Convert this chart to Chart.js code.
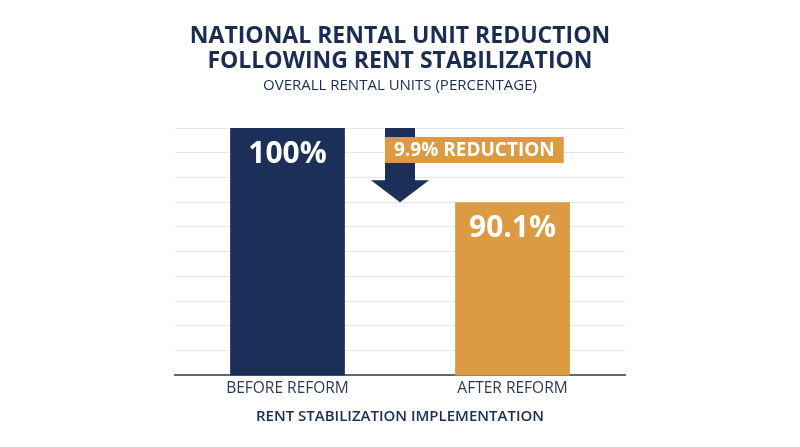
<!DOCTYPE html>
<html lang="en">
<head>
  <meta charset="UTF-8" />
  <title>Rental Unit Reduction</title>
  <script src="https://cdn.jsdelivr.net/npm/chart.js@4.4.1/dist/chart.umd.min.js"></script>
  <style>
    html, body {margin: 0; padding: 0; background: #fff;}
    #wrap {width: 800px; height: 447px; position: relative;}
  </style>
</head>
<body>
  <div id="wrap"><canvas id="myChart"></canvas></div>

  <script>
    // data
    const categories = ["BEFORE REFORM", "AFTER REFORM"];
    const values = [100, 90.1];
    const barColors = ["#1b2f58", "#dc9b42"];
    const yMin = 67, yMax = 100, yStep = 3.3;   // axis is cropped, not zero-based

    const navy = "#1b2d52";
    const FONT = "'Open Sans', sans-serif";

    // value labels inside the bars
    const valueLabels = {
      id: "valueLabels",
      afterDatasetsDraw(chart) {
        const ctx = chart.ctx;
        const meta = chart.getDatasetMeta(0);
        ctx.save();
        ctx.fillStyle = "#fff";
        ctx.font = "bold 30px " + FONT;
        ctx.textAlign = "center";
        ctx.textBaseline = "middle";
        meta.data.forEach((bar, i) => {
          ctx.fillText(values[i] + "%", bar.x, bar.y + 26);
        });
        ctx.restore();
      }
    };

    // down arrow + reduction tag between the bars
    const reductionArrow = {
      id: "reductionArrow",
      afterDatasetsDraw(chart) {
        const ctx = chart.ctx;
        const y = chart.scales.y;
        const area = chart.chartArea;
        const cx = (area.left + area.right) / 2;
        const yTop = y.getPixelForValue(values[0]);
        const yTip = y.getPixelForValue(values[1]);
        const shaft = 15, head = 29, headH = 22;

        ctx.save();
        ctx.fillStyle = barColors[0];
        ctx.beginPath();
        ctx.moveTo(cx - shaft, yTop);
        ctx.lineTo(cx + shaft, yTop);
        ctx.lineTo(cx + shaft, yTip - headH);
        ctx.lineTo(cx + head, yTip - headH);
        ctx.lineTo(cx, yTip);
        ctx.lineTo(cx - head, yTip - headH);
        ctx.lineTo(cx - shaft, yTip - headH);
        ctx.closePath();
        ctx.fill();

        const label = (values[0] - values[1]).toFixed(1) + "% REDUCTION";
        ctx.font = "bold 19px " + FONT;
        const w = ctx.measureText(label).width + 18;
        const bx = cx - shaft, by = yTop + 9;
        ctx.fillStyle = barColors[1];
        ctx.fillRect(bx, by, w, 26);
        ctx.fillStyle = "#fff";
        ctx.textAlign = "center";
        ctx.textBaseline = "middle";
        ctx.fillText(label, bx + w / 2, by + 14);
        ctx.restore();
      }
    };

    new Chart(document.getElementById("myChart"), {
      type: "bar",
      data: {
        labels: categories,
        datasets: [{
          data: values,
          backgroundColor: barColors,
          categoryPercentage: 1,
          barPercentage: 0.51
        }]
      },
      options: {
        responsive: true,
        maintainAspectRatio: false,
        animation: false,
        layout: {padding: {left: 175, right: 175, top: 18, bottom: 21}},
        plugins: {
          legend: {display: false},
          tooltip: {enabled: false},
          title: {
            display: true,
            text: ["NATIONAL RENTAL UNIT REDUCTION", "FOLLOWING RENT STABILIZATION"],
            color: navy,
            font: {family: FONT, size: 23, weight: "bold", lineHeight: 1.087},
            padding: {top: 6, bottom: 3}
          },
          subtitle: {
            display: true,
            text: "OVERALL RENTAL UNITS (PERCENTAGE)",
            color: navy,
            font: {family: FONT, size: 15, weight: "normal"},
            padding: {top: 0, bottom: 33}
          }
        },
        scales: {
          x: {
            grid: {display: false, drawTicks: false},
            border: {color: "#5d6878", width: 2},
            ticks: {color: "#2b3a57", font: {family: FONT, size: 15.5}, padding: 4},
            title: {
              display: true,
              text: "RENT STABILIZATION IMPLEMENTATION",
              color: navy,
              font: {family: FONT, size: 15, weight: "600"},
              padding: {top: 6, bottom: 0}
            }
          },
          y: {
            min: yMin,
            max: yMax,
            ticks: {display: false, stepSize: yStep},
            border: {display: false},
            grid: {color: "#e8e8e8", drawTicks: false}
          }
        }
      },
      plugins: [valueLabels, reductionArrow]
    });
  </script>
</body>
</html>
